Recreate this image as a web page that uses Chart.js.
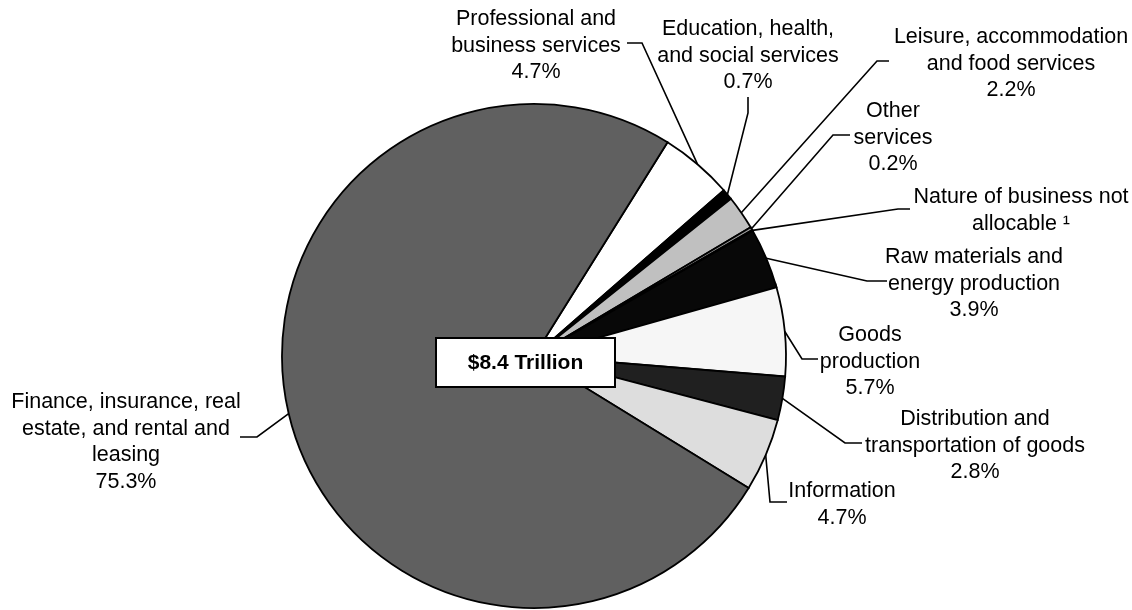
<!DOCTYPE html>
<html>
<head>
<meta charset="utf-8">
<script src="https://cdn.jsdelivr.net/npm/chart.js@4"></script>
<style>
  html, body { margin: 0; padding: 0; background: #ffffff; }
  #wrap { width: 1132px; height: 610px; position: relative; }
</style>
</head>
<body>
<div id="wrap"><canvas id="c" width="1132" height="610"></canvas></div>
<script>
// ---- data ----
const categories = [
  "Professional and business services",
  "Education, health, and social services",
  "Leisure, accommodation and food services",
  "Other services",
  "Nature of business not allocable \u00b9",
  "Raw materials and energy production",
  "Goods production",
  "Distribution and transportation of goods",
  "Information",
  "Finance, insurance, real estate, and rental and leasing"
];
const values = [4.7, 0.7, 2.2, 0.2, 0.05, 3.9, 5.7, 2.8, 4.7, 75.3];
const valueLabels = ["4.7%", "0.7%", "2.2%", "0.2%", "", "3.9%", "5.7%", "2.8%", "4.7%", "75.3%"];
const centerLabel = "$8.4 Trillion";

// ---- styles / layout ----
const sliceColors = ["#ffffff", "#000000", "#c0c0c0", "#969696", "#808080", "#080808", "#f6f6f6", "#202020", "#dddddd", "#606060"];
const labelLines = [
  ["Professional and", "business services"],
  ["Education, health,", "and social services"],
  ["Leisure, accommodation", "and food services"],
  ["Other", "services"],
  ["Nature of business not", "allocable \u00b9"],
  ["Raw materials and", "energy production"],
  ["Goods", "production"],
  ["Distribution and", "transportation of goods"],
  ["Information"],
  ["Finance, insurance, real", "estate, and rental and", "leasing"]
];
// label centre x, first baseline y, leader elbow, leader end
const labelLayout = [
  {cx: 536, y: 25, elbow: [642, 43], end: [627, 43]},
  {cx: 748, y: 35, elbow: [748, 113], end: [748, 97]},
  {cx: 1011, y: 43, elbow: [877, 61], end: [889, 61]},
  {cx: 893, y: 117, elbow: [833, 135], end: [850, 135]},
  {cx: 1021, y: 203, elbow: [898, 209], end: [910, 209]},
  {cx: 974, y: 263, elbow: [867, 281], end: [887, 281]},
  {cx: 870, y: 341, elbow: [802, 359], end: [818, 359]},
  {cx: 975, y: 425, elbow: [845, 443], end: [862, 443]},
  {cx: 842, y: 497, elbow: [770, 502], end: [787, 502]},
  {cx: 126, y: 408, elbow: [257, 437], end: [240, 437]}
];
const FONT = '21.5px "Liberation Sans", Arial, sans-serif';
const LINE_H = 26.6;

const labelPlugin = {
  id: 'labels',
  afterDatasetsDraw(chart) {
    const ctx = chart.ctx;
    const meta = chart.getDatasetMeta(0);
    ctx.save();
    // leader lines
    ctx.strokeStyle = '#000';
    ctx.lineWidth = 1.6;
    meta.data.forEach((arc, i) => {
      const p = arc.getProps(['x', 'y', 'startAngle', 'endAngle', 'outerRadius'], true);
      const mid = (p.startAngle + p.endAngle) / 2;
      const sx = p.x + Math.cos(mid) * p.outerRadius;
      const sy = p.y + Math.sin(mid) * p.outerRadius;
      const L = labelLayout[i];
      ctx.beginPath();
      ctx.moveTo(sx, sy);
      ctx.lineTo(L.elbow[0], L.elbow[1]);
      ctx.lineTo(L.end[0], L.end[1]);
      ctx.stroke();
    });
    // label texts
    ctx.fillStyle = '#000';
    ctx.font = FONT;
    ctx.textAlign = 'center';
    ctx.textBaseline = 'alphabetic';
    labelLines.forEach((lines, i) => {
      const L = labelLayout[i];
      const all = valueLabels[i] ? lines.concat([valueLabels[i]]) : lines;
      all.forEach((t, k) => ctx.fillText(t, L.cx, L.y + k * LINE_H));
    });
    // centre box
    const bx = 436, by = 338, bw = 179, bh = 49;
    ctx.fillStyle = '#fff';
    ctx.fillRect(bx, by, bw, bh);
    ctx.lineWidth = 2;
    ctx.strokeRect(bx, by, bw, bh);
    ctx.fillStyle = '#000';
    ctx.font = 'bold 21px "Liberation Sans", Arial, sans-serif';
    ctx.textBaseline = 'middle';
    ctx.fillText(centerLabel, bx + bw / 2, by + bh / 2 + 1);
    ctx.restore();
  }
};

new Chart(document.getElementById('c'), {
  type: 'pie',
  data: {
    labels: categories,
    datasets: [{
      data: values,
      backgroundColor: sliceColors,
      borderColor: '#000000',
      borderWidth: 1.8,
      borderJoinStyle: 'miter'
    }]
  },
  options: {
    responsive: false,
    animation: false,
    rotation: 32,
    radius: 252,
    layout: { padding: { left: 0, right: 64, top: 102, bottom: 0 } },
    plugins: { legend: { display: false }, tooltip: { enabled: false }, title: { display: false } },
    events: []
  },
  plugins: [labelPlugin]
});
</script>
</body>
</html>
